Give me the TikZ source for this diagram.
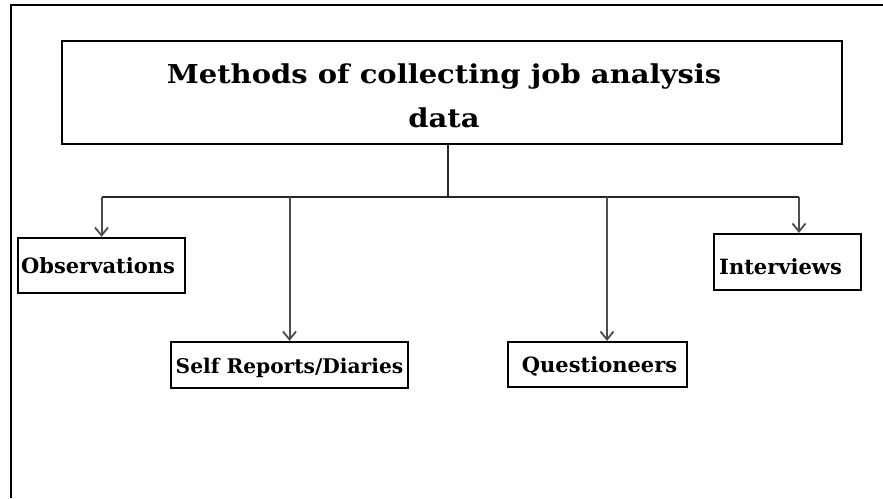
\documentclass[tikz,border=0pt]{standalone}
\usepackage{fontspec}
\setmainfont{DejaVu Serif}
\usetikzlibrary{arrows.meta}

\begin{document}
\begin{tikzpicture}[x=1pt,y=-1pt,
  box/.style={draw=black, line width=2.2pt, fill=white, inner sep=0pt},
  titletext/.style={inner sep=0pt, font=\fontsize{25}{42}\bfseries\selectfont},
  leaftext/.style={font=\fontsize{21}{24}\bfseries\selectfont, text height=16pt, text depth=0pt},
  trunk/.style={draw=black!85, line width=1.8pt},
  branch/.style={draw=black!70, line width=2pt,
    -{Straight Barb[length=8pt,width=13pt,line width=1.8pt]}}]

  % page and frame
  \useasboundingbox (0,0) rectangle (883,498);
  \fill[white] (0,0) rectangle (883,498);
  \draw[line width=2.2pt] (11,498) -- (11,5) -- (883,5);

  % heading box
  \node[box, minimum width=780pt, minimum height=103pt] (title) at (452,92.5) {};
  \node[titletext] (titletxt) at ([xshift=-8pt,yshift=-4pt]title.center)
    {\scalebox{1.16}[1.04]{\begin{tabular}{@{}c@{}}Methods of collecting job analysis\\data\end{tabular}}};

  % method boxes (kerns push the labels off-centre inside their boxes)
  \node[box, leaftext, minimum width=167pt, minimum height=55pt] (obs)   at (101.5,265.5) {Observations\kern7pt};
  \node[box, leaftext, minimum width=237pt, minimum height=46pt] (self)  at (289.5,365)
    {\fontsize{20.2}{24}\selectfont Self Reports/Diaries};
  \node[box, leaftext, minimum width=179pt, minimum height=45pt] (quest) at (597.5,364.5) {\kern4pt Questioneers};
  \node[box, leaftext, minimum width=147pt, minimum height=56pt] (inter) at (787.5,262)
    {\raisebox{-4pt}{Interviews}\kern14pt};

  % connectors
  \coordinate (hub) at (448,197);
  \coordinate (b1) at (101.5,197);
  \coordinate (b2) at (289.5,197);
  \coordinate (b3) at (607,197);
  \coordinate (b4) at (799,197);

  \draw[trunk] (hub |- title.south) -- (hub);
  \draw[trunk] (b1) -- (b4);
  \draw[branch] (b1) -- (obs.north);
  \draw[branch] (b2) -- (self.north);
  \draw[branch] (b3) -- (b3 |- quest.north);
  \draw[branch] (b4) -- (b4 |- inter.north);
\end{tikzpicture}
\end{document}
